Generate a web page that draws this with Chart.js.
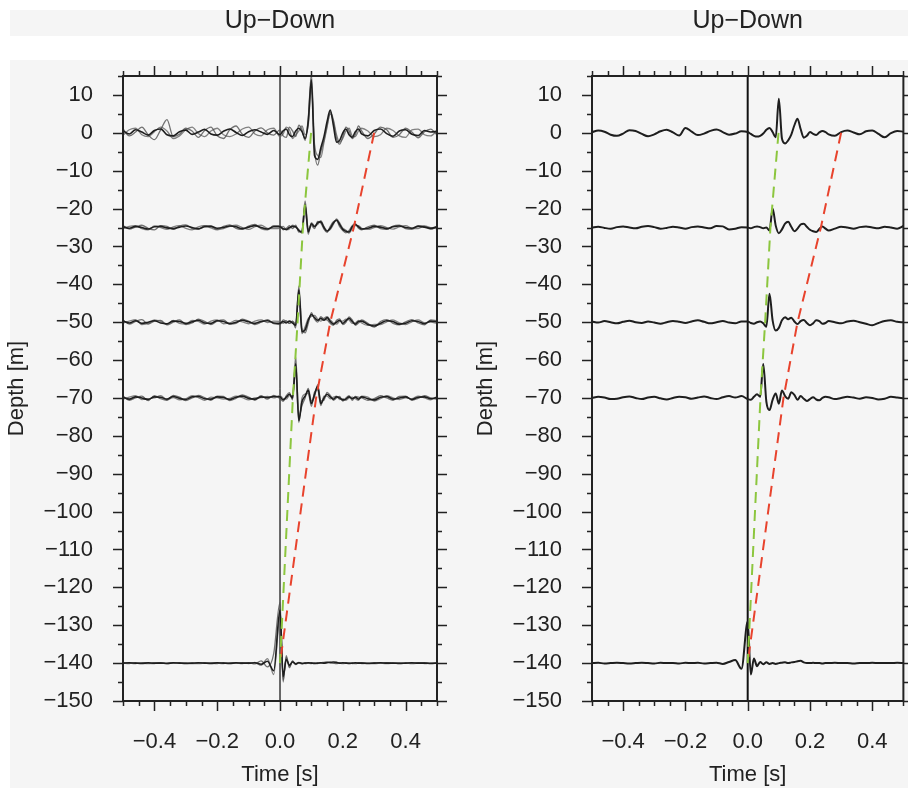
<!DOCTYPE html>
<html>
<head>
<meta charset="utf-8">
<script src="https://cdn.jsdelivr.net/npm/chart.js@4.4.1/dist/chart.umd.min.js"></script>
<style>
  html,body{margin:0;padding:0;background:#ffffff;}
  #wrap{position:relative;width:908px;height:788px;overflow:hidden;}
  .band{position:absolute;background:#f5f5f5;}
  canvas{position:absolute;top:0;}
</style>
</head>
<body>
<div id="wrap">
  <div class="band" style="left:10px;top:10px;width:898px;height:26px;"></div>
  <div class="band" style="left:10px;top:60px;width:898px;height:728px;"></div>
  <canvas id="cL" width="454" height="788" style="left:0px;"></canvas>
  <canvas id="cR" width="454" height="788" style="left:454px;"></canvas>
</div>
<script>
// ---------------- DATA ----------------
const times = [-0.50,-0.48,-0.46,-0.44,-0.42,-0.40,-0.38,-0.36,-0.34,-0.32,-0.30,-0.28,-0.26,-0.24,-0.22,-0.20,-0.18,-0.16,-0.14,-0.12,-0.10,-0.08,-0.06,-0.04,-0.02,
  0.00,0.01,0.02,0.03,0.04,0.05,0.06,0.07,0.08,0.09,0.10,0.11,0.12,0.13,0.14,0.15,0.16,0.17,0.18,0.19,0.20,0.21,0.22,0.23,0.24,0.25,
  0.26,0.28,0.30,0.32,0.34,0.36,0.38,0.40,0.42,0.44,0.46,0.48,0.50];

const depths = [0, -25, -50, -70, -140];

// Left panel: main (black) traces, amplitude offsets from depth
const leftBlack0 = [0.5,-0.3,0.8,0.2,-0.6,0.6,1.0,-0.5,-0.8,0.3,0.7,-0.4,0.2,0.9,-0.3,-0.6,0.4,1.0,0.1,-0.7,0.3,0.8,0.2,-0.4,0.6,
  -0.5,0.5,1.0,-0.5,-1.0,0.5,1.2,0.3,-1.5,3.0,14.0,-6.0,-7.0,-4.0,-1.0,3.0,6.0,2.0,-2.5,-2.0,0.0,1.0,-0.5,-1.2,0.3,1.0,
  -0.3,-0.8,0.6,1.0,-0.2,-0.9,0.5,0.8,-0.4,-0.7,0.6,0.2,0.4];
const leftBlack25 = [0.2,-0.2,0.3,0.0,-0.4,0.2,0.3,-0.1,-0.3,0.1,0.4,0.0,-0.3,0.2,0.3,-0.2,0.0,0.4,0.2,-0.3,0.1,0.5,0.0,-0.4,0.2,
  0.2,-0.3,-0.5,0.0,0.3,0.2,-0.8,-1.2,6.0,-1.2,1.0,0.2,1.2,1.5,0.0,-1.0,-0.2,1.2,2.0,0.8,-0.5,-1.0,-1.2,0.2,0.8,0.2,
  -0.4,-0.2,0.3,0.1,-0.3,0.2,0.4,0.0,-0.2,0.3,0.1,-0.2,0.2];
const leftBlack50 = [0.3,-0.2,0.4,-0.3,0.0,0.4,-0.2,-0.4,0.3,0.2,-0.3,0.1,0.5,-0.2,-0.3,0.4,0.2,-0.4,0.0,0.5,0.1,-0.3,0.2,0.4,-0.2,
  -0.3,0.2,-0.2,0.3,-0.2,-0.8,8.5,-2.5,-2.0,0.5,2.0,1.2,0.5,1.0,0.5,1.2,0.2,-0.5,0.0,0.5,-0.3,0.4,1.0,0.2,-0.5,0.2,
  0.3,-0.6,-1.0,-0.3,0.4,0.2,-0.5,-0.3,0.4,0.2,-0.4,0.3,0.1];
const leftBlack70 = [0.2,-0.3,0.3,0.0,-0.4,0.3,0.2,-0.3,0.4,-0.1,-0.4,0.3,0.4,-0.2,-0.3,0.3,0.1,-0.4,0.2,0.5,-0.1,-0.3,0.3,0.1,0.4,
  0.3,-0.5,0.2,1.0,0.0,9.0,-6.0,-1.0,0.5,2.0,-1.5,1.0,3.0,-1.5,0.0,1.0,0.3,-0.3,0.3,0.0,-0.5,-0.3,0.3,-0.2,0.2,-0.3,
  0.3,-0.2,-0.5,0.2,0.4,-0.3,0.0,0.3,-0.4,0.2,0.3,-0.2,0.1];
const leftBlack140 = [0.0,0.1,0.0,-0.1,0.1,0.0,0.0,-0.1,0.1,0.0,-0.1,0.0,0.1,0.0,-0.1,0.1,0.0,-0.1,0.1,0.0,0.0,0.1,-0.3,0.5,-2.0,
  14.0,-3.5,1.0,-0.6,0.3,-0.2,0.1,-0.1,0.0,0.1,0.0,-0.1,0.0,0.1,0.0,0.1,0.2,0.3,0.2,0.0,0.1,0.0,-0.1,0.0,0.1,0.0,
  0.0,-0.1,0.0,0.1,0.0,0.0,-0.1,0.0,0.1,0.0,0.0,-0.1,0.0];

// Left panel: individual (gray) traces
const leftGrayA0 = [1.0,-0.8,0.2,1.5,-0.5,-1.8,0.8,3.5,-1.0,-0.4,1.2,0.5,-1.2,0.6,1.5,-0.8,-1.5,0.8,1.8,-0.4,-1.2,0.5,1.3,0.0,-0.6,
  0.8,-0.8,-1.2,1.5,0.5,-1.0,2.0,0.8,-2.0,4.0,15.5,-4.0,-8.5,-5.0,-2.0,2.0,5.0,3.0,-1.5,-3.0,-1.0,1.5,0.5,-1.5,-0.5,1.8,
  0.5,-1.5,-0.3,1.5,0.8,-1.2,-0.5,1.2,0.2,-1.3,0.3,1.0,-0.6];
const leftGrayB0 = [-0.6,0.8,1.2,-0.5,-1.0,0.3,1.5,0.5,-1.5,-0.8,0.8,1.5,-0.2,-1.0,0.5,1.2,-0.5,-1.0,-0.3,1.0,1.5,-0.3,-0.8,0.8,1.2,
  -1.0,-0.3,1.5,0.8,-1.5,-0.5,0.5,1.8,-0.5,2.0,12.0,-3.0,-6.0,-6.5,-2.5,1.5,5.5,3.5,-0.5,-2.5,-1.5,0.5,1.2,-0.8,-1.0,0.5,
  1.2,0.5,-1.0,-0.5,1.2,0.6,-0.8,-1.2,0.8,1.0,-0.5,-0.8,0.6];
const leftGrayA25 = [0.5,-0.4,0.1,0.6,-0.2,-0.6,0.5,0.3,-0.5,0.4,0.7,-0.3,-0.5,0.5,0.4,-0.5,0.3,0.7,-0.2,-0.5,0.4,0.8,-0.3,-0.6,0.5,
  0.5,-0.6,-0.2,0.5,-0.3,0.6,-1.2,-0.8,7.0,-0.5,0.5,-0.3,1.6,1.2,-0.4,-1.3,0.3,1.5,1.8,0.2,-0.8,-1.4,-0.8,0.5,1.0,-0.2,
  -0.6,0.2,0.6,-0.3,-0.5,0.4,0.6,-0.3,-0.5,0.5,0.3,-0.5,0.3];
const leftGrayB25 = [-0.3,0.3,0.5,-0.3,-0.6,0.4,0.0,-0.5,0.2,0.5,-0.2,-0.6,0.2,0.5,-0.1,-0.6,-0.3,0.3,0.6,0.0,-0.5,0.2,0.6,-0.2,-0.3,
  -0.2,0.3,-0.6,-0.4,0.6,0.0,-0.5,-1.5,5.0,-1.8,1.3,0.5,0.8,1.8,0.3,-0.8,-0.5,0.8,2.3,1.2,-0.2,-0.7,-1.5,-0.3,0.5,0.5,
  -0.2,-0.5,0.0,0.5,0.0,-0.4,0.2,0.5,-0.2,-0.3,0.4,0.0,-0.3];
const leftGrayA50 = [0.6,-0.5,0.2,0.7,-0.5,0.3,0.5,-0.7,0.0,0.6,-0.6,-0.2,0.8,0.2,-0.6,0.3,0.6,-0.5,-0.3,0.8,0.3,-0.6,0.0,0.7,-0.4,
  -0.6,0.6,0.2,-0.3,0.3,-1.5,9.5,-1.5,-2.8,-0.3,2.5,0.8,0.0,1.5,0.8,0.6,-0.3,-0.8,0.5,0.9,-0.6,0.0,1.4,0.6,-0.8,-0.2,
  0.6,-0.3,-1.3,0.2,0.7,-0.3,-0.7,0.1,0.7,-0.2,-0.7,0.6,0.4];
const leftGrayB50 = [-0.2,0.3,0.7,-0.6,-0.4,0.6,0.2,-0.6,0.5,-0.3,-0.5,0.5,0.2,-0.5,0.3,0.6,-0.4,-0.2,0.5,0.1,-0.4,0.3,0.6,-0.1,0.3,
  0.2,-0.3,0.4,-0.3,0.2,-0.3,7.0,-3.0,-1.2,1.0,1.5,1.8,0.8,0.3,1.0,1.5,0.6,-0.2,-0.5,0.2,0.3,0.8,0.6,-0.3,-0.2,0.5,
  -0.2,-0.8,-0.6,-0.6,0.1,0.6,-0.2,-0.6,0.1,0.6,-0.1,0.0,-0.3];
const leftGrayA70 = [0.5,-0.6,0.0,0.5,-0.7,0.6,-0.2,-0.6,0.7,0.2,-0.7,0.0,0.7,0.1,-0.6,0.5,0.4,-0.7,-0.1,0.8,0.2,-0.6,0.6,-0.3,0.7,
  -0.2,-0.9,0.6,1.4,-0.5,11.0,-5.0,-2.0,0.0,2.5,-0.8,0.3,3.5,-0.8,-0.6,1.5,0.7,-0.6,0.0,0.4,-0.8,0.0,0.6,-0.6,0.4,0.2,
  0.0,-0.6,-0.2,0.6,0.0,-0.6,0.4,0.5,-0.6,-0.1,0.6,0.0,-0.3];
const leftGrayB70 = [-0.3,0.2,0.6,-0.4,-0.2,0.0,0.6,-0.5,0.1,-0.5,-0.2,0.6,0.1,-0.6,0.2,0.0,-0.3,-0.1,0.5,0.1,-0.5,0.0,0.1,0.4,0.0,
  0.6,-0.2,-0.3,0.6,0.5,7.0,-6.5,0.0,1.0,1.2,-2.2,1.6,2.2,-2.0,0.5,0.5,-0.2,0.2,0.5,-0.4,-0.2,-0.6,0.0,0.2,-0.2,-0.6,
  0.5,0.2,-0.8,-0.2,0.6,0.0,-0.4,0.0,-0.2,0.5,0.0,-0.5,0.4];
const leftGrayA140 = [0.1,0.0,-0.1,0.1,0.0,-0.1,0.1,0.0,0.0,0.1,0.0,-0.1,0.0,0.1,0.0,-0.1,0.1,0.0,0.0,-0.1,0.1,-0.2,0.6,-1.0,2.5,
  16.0,-5.0,2.0,-1.2,0.5,-0.4,0.2,0.0,-0.1,0.0,0.1,0.0,-0.1,0.1,0.2,0.3,0.1,0.0,-0.1,0.0,0.0,0.1,0.0,0.0,-0.1,0.0,
  0.1,0.0,-0.1,0.0,0.1,0.0,0.0,0.0,-0.1,0.0,0.1,0.0,0.0];
const leftGrayB140 = [0.0,-0.1,0.1,0.0,-0.1,0.0,0.1,-0.1,0.0,0.0,0.1,0.0,-0.1,0.0,0.1,0.0,-0.1,0.1,0.0,0.1,-0.1,0.2,-0.6,1.2,-3.0,
  12.0,-4.5,1.5,-1.0,0.6,-0.3,0.1,-0.2,0.1,0.0,-0.1,0.1,0.0,0.0,0.1,0.2,0.2,0.0,0.1,0.0,-0.1,0.0,0.1,-0.1,0.0,0.1,
  -0.1,0.0,0.1,0.0,-0.1,0.0,0.1,0.0,0.0,0.1,-0.1,0.0,0.1];

// Right panel: stacked traces
const right0 = [0.2,0.6,0.3,-0.5,-0.8,-0.2,0.7,0.5,-0.3,-0.9,-0.4,0.4,0.8,0.1,-0.7,1.3,0.3,-0.6,-0.2,0.5,0.9,0.2,-0.5,-0.2,0.4,
  0.2,-0.3,-0.8,-1.0,-0.8,-0.2,0.8,1.3,0.2,-1.2,9.0,-1.5,-2.8,-2.0,-0.5,2.0,3.7,1.0,-1.3,-0.8,0.2,-0.3,-0.6,0.1,0.5,0.2,
  -0.4,-0.8,0.2,0.6,0.1,-0.4,0.4,0.6,-0.3,-1.2,-0.1,0.5,0.3];
const right25 = [0.0,0.2,-0.1,-0.3,0.1,0.3,0.0,-0.2,0.2,0.4,0.1,-0.3,-0.1,0.2,0.0,-0.3,0.1,0.3,0.0,-0.2,0.4,0.3,-0.5,-0.3,0.1,
  0.0,-0.2,0.1,0.3,0.1,-0.2,0.0,-0.8,5.0,0.5,-1.5,-0.5,1.0,1.5,0.2,-1.0,-0.3,0.8,1.0,0.2,-0.6,-1.0,-1.2,-0.4,0.3,-0.3,
  -0.8,-0.3,0.2,0.0,-0.3,0.1,0.3,0.0,-0.2,0.2,0.0,-0.3,0.4];
const right50 = [0.2,-0.1,0.3,0.0,-0.3,0.1,0.4,0.0,-0.2,0.2,-0.1,-0.4,0.0,0.3,0.1,-0.2,0.2,0.5,0.1,-0.3,0.0,0.3,-0.1,-0.3,0.2,
  0.2,-0.2,-0.4,0.0,0.2,-0.3,-1.2,7.5,0.5,-2.2,-1.5,0.5,1.3,0.8,1.2,0.2,-0.5,0.3,0.6,-0.2,-0.8,-0.3,0.5,0.3,-0.4,-0.2,
  0.3,0.0,-0.3,0.2,0.4,0.0,-0.4,-0.8,-0.2,0.3,0.5,0.1,0.0];
const right70 = [0.0,0.3,0.1,-0.3,-0.2,0.2,0.4,0.0,-0.3,0.1,0.3,-0.1,-0.4,0.0,0.3,0.2,-0.2,0.1,0.4,0.0,-0.3,0.2,0.5,0.1,0.5,
  -0.3,-0.5,0.3,1.0,0.3,9.0,-1.0,-3.2,-0.5,1.2,-1.5,2.0,0.5,-0.2,1.5,0.8,-0.5,0.5,-0.2,-0.8,-0.3,0.2,-0.4,-0.6,0.0,0.3,
  0.2,-0.3,0.0,0.3,0.1,-0.2,0.2,0.0,-0.4,-0.2,0.3,0.1,-0.1];
const right140 = [0.0,0.1,-0.1,0.0,0.1,0.0,-0.1,0.0,0.1,0.0,-0.1,0.1,0.0,0.0,-0.1,0.1,0.0,0.1,-0.1,0.0,0.1,-0.2,0.3,0.8,-1.5,
  11.0,-3.0,1.2,-0.8,0.3,-0.3,0.2,-0.2,0.0,-0.2,0.0,0.1,0.2,0.0,0.2,0.3,0.5,0.6,0.2,0.0,0.0,0.1,0.0,0.0,-0.1,0.0,
  0.0,0.1,0.0,0.0,-0.1,0.0,0.0,0.1,0.0,0.0,0.0,0.1,0.0];

// Travel-time picks (dashed lines): depth vs time
const pickDepths = [0, -25, -50, -70, -140];
const greenTimes = [0.099, 0.073, 0.056, 0.041, 0.0];
const redTimes   = [0.300, 0.235, 0.160, 0.115, 0.0];

// Zero-time reference line
const zeroLineDepths = [15, -150];

// Axis ticks
const xLabelTicks = [-0.4, -0.2, 0.0, 0.2, 0.4];
const xMinorTicks = [-0.5,-0.45,-0.35,-0.3,-0.25,-0.15,-0.1,-0.05,0.05,0.1,0.15,0.25,0.3,0.35,0.45,0.5];
const yLabelTicks = [10,0,-10,-20,-30,-40,-50,-60,-70,-80,-90,-100,-110,-120,-130,-140,-150];
const yMinorTicks = [15,5,-5,-15,-25,-35,-45,-55,-65,-75,-85,-95,-105,-115,-125,-135,-145];

const leftBlack = [leftBlack0, leftBlack25, leftBlack50, leftBlack70, leftBlack140];
const leftGrayA = [leftGrayA0, leftGrayA25, leftGrayA50, leftGrayA70, leftGrayA140];
const leftGrayB = [leftGrayB0, leftGrayB25, leftGrayB50, leftGrayB70, leftGrayB140];
const rightTraces = [right0, right25, right50, right70, right140];

// ---------------- CHART ----------------
Chart.defaults.font.family = "'Liberation Sans', Arial, Helvetica, sans-serif";
Chart.defaults.color = '#222';

const MINUS = '\u2212';
function traceData(depth, amps){ return times.map((t,i)=>({x:t, y:depth+amps[i]})); }
function pickData(ts){ return pickDepths.map((d,i)=>({x:ts[i], y:d})); }

const frameTicks = {
  id:'frameTicks',
  afterDraw(chart){
    const {ctx, chartArea:a, scales:{x,y}} = chart;
    const MAJ = 10, MIN = 5;
    ctx.save();
    ctx.strokeStyle = '#222';
    ctx.lineWidth = 1.5;
    ctx.beginPath();
    const xt = (vals,len)=>vals.forEach(v=>{
      const p = Math.round(x.getPixelForValue(v))+0.5;
      ctx.moveTo(p,a.bottom); ctx.lineTo(p,a.bottom+len);
      ctx.moveTo(p,a.top); ctx.lineTo(p,a.top-len);
    });
    const yt = (vals,len)=>vals.forEach(v=>{
      const p = Math.round(y.getPixelForValue(v))+0.5;
      ctx.moveTo(a.left,p); ctx.lineTo(a.left-len,p);
      ctx.moveTo(a.right,p); ctx.lineTo(a.right+len,p);
    });
    xt(xLabelTicks, MAJ); xt(xMinorTicks, MIN);
    yt(yLabelTicks, MAJ); yt(yMinorTicks, MIN);
    ctx.stroke();
    ctx.lineWidth = 2;
    ctx.strokeRect(a.left, a.top, a.right-a.left, a.bottom-a.top);
    ctx.restore();
  }
};

function makeChart(canvasId, side){
  const isLeft = side === 'left';
  const datasets = [];
  const dashStyle = {borderWidth:2, borderDash:[11,7], pointRadius:0, fill:false, tension:0};
  datasets.push(Object.assign({data:pickData(greenTimes), borderColor:'#8cc63e'}, dashStyle));
  datasets.push(Object.assign({data:pickData(redTimes), borderColor:'#e8432d'}, dashStyle));
  depths.forEach((d,k)=>{
    if(isLeft){
      datasets.push({data:traceData(d, leftBlack[k]), borderColor:'#1e1e1e', borderWidth:1.6, pointRadius:0, cubicInterpolationMode:'monotone'});
    } else {
      datasets.push({data:traceData(d, rightTraces[k]), borderColor:'#1e1e1e', borderWidth:2, pointRadius:0, cubicInterpolationMode:'monotone'});
    }
  });
  if(isLeft){
    depths.forEach((d,k)=>{
      datasets.push({data:traceData(d, leftGrayA[k]), borderColor:'rgba(80,80,80,0.8)', borderWidth:1.3, pointRadius:0, cubicInterpolationMode:'monotone'});
      datasets.push({data:traceData(d, leftGrayB[k]), borderColor:'rgba(100,100,100,0.8)', borderWidth:1.3, pointRadius:0, cubicInterpolationMode:'monotone'});
    });
  }
  datasets.push({data:zeroLineDepths.map(v=>({x:0,y:v})), borderColor: isLeft ? '#555' : '#111', borderWidth: isLeft ? 1 : 2, pointRadius:0});

  const padLeft = isLeft ? 0 : 15;
  const yWidth = isLeft ? 123 : 138;
  return new Chart(document.getElementById(canvasId), {
    type:'line',
    data:{datasets},
    options:{
      responsive:false,
      animation:false,
      devicePixelRatio:1,
      layout:{padding:{left:padLeft, right: isLeft ? 17 : 2, top:0, bottom:0}},
      plugins:{
        legend:{display:false},
        tooltip:{enabled:false},
        title:{display:true, fullSize:false, text:'Up' + MINUS + 'Down', font:{size:25, weight:'normal'}, color:'#222', padding:{top:6, bottom:40}}
      },
      scales:{
        x:{
          type:'linear', min:-0.5, max:0.5,
          grid:{display:false}, border:{display:false},
          afterBuildTicks:(s)=>{ s.ticks = xLabelTicks.map(v=>({value:v})); },
          afterFit:(s)=>{ s.height = 87; },
          ticks:{padding:20, autoSkip:false, maxRotation:0, font:{size:22}, color:'#222',
            callback:(v)=> (v < -1e-9 ? MINUS : '') + Math.abs(v).toFixed(1)},
          title:{display:true, text:'Time [s]', font:{size:22}, color:'#222', padding:{top:0, bottom:0}}
        },
        y:{
          type:'linear', min:-150, max:15,
          grid:{display:false}, border:{display:false},
          afterBuildTicks:(s)=>{ s.ticks = yLabelTicks.map(v=>({value:v})); },
          afterFit:(s)=>{ s.width = yWidth - padLeft; },
          ticks:{padding:22, autoSkip:false, font:{size:22}, color:'#222',
            callback:(v)=> (v < 0 ? MINUS : '') + Math.abs(v)},
          title:{display:true, text:'Depth [m]', font:{size:22}, color:'#222', padding:{top:4, bottom:0}}
        }
      }
    },
    plugins:[frameTicks]
  });
}

makeChart('cL', 'left');
makeChart('cR', 'right');
</script>
</body>
</html>
